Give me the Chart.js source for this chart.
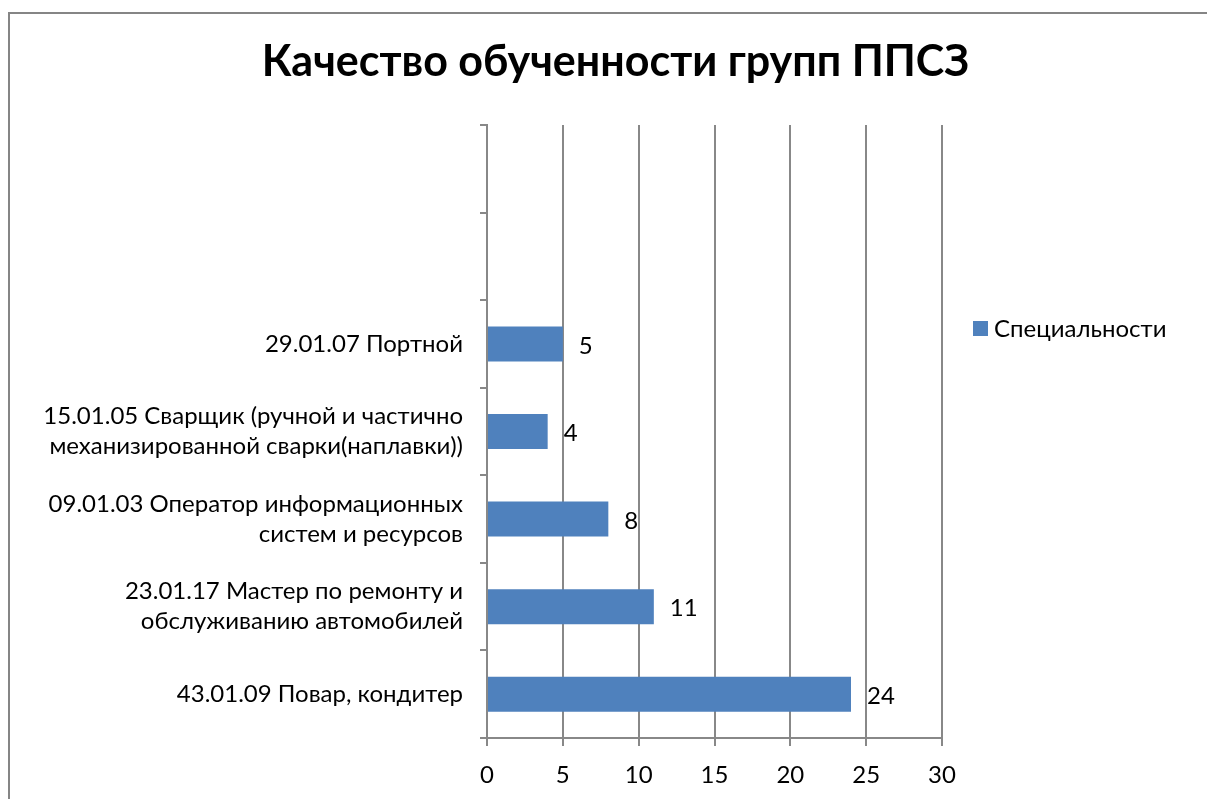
<!DOCTYPE html>
<html>
<head>
<meta charset="utf-8">
<script src="https://cdn.jsdelivr.net/npm/chart.js@4/dist/chart.umd.min.js"></script>
<style>
  html, body { margin: 0; padding: 0; background: #ffffff; }
  #wrap { position: relative; width: 1207px; height: 799px; overflow: hidden; }
  canvas { display: block; }
</style>
</head>
<body>
<div id="wrap"><canvas id="c" width="1207" height="799"></canvas></div>
<script>
// ---- data ----
const chartTitle = "Качество обученности групп ППСЗ";
const seriesName = "Специальности";
const categories = [
  "",
  "",
  "29.01.07 Портной",
  ["15.01.05 Сварщик (ручной и частично", "механизированной сварки(наплавки))"],
  ["09.01.03 Оператор информационных", "систем и ресурсов"],
  ["23.01.17 Мастер по ремонту и", "обслуживанию автомобилей"],
  "43.01.09 Повар, кондитер"
];
const values = [null, null, 5, 4, 8, 11, 24];
const xTicks = [0, 5, 10, 15, 20, 25, 30];

const FONT = "Lato, 'Open Sans', sans-serif";
const GRID = "#888888";
const BAR = "#4f81bd";

const framePlugin = {
  id: 'frame',
  beforeDraw(chart) {
    const ctx = chart.ctx;
    ctx.save();
    ctx.fillStyle = '#ffffff';
    ctx.fillRect(0, 0, chart.width, chart.height);
    ctx.strokeStyle = '#858585';
    ctx.lineWidth = 2;
    ctx.beginPath();
    ctx.moveTo(9, chart.height + 5);
    ctx.lineTo(9, 13);
    ctx.lineTo(chart.width + 5, 13);
    ctx.stroke();
    ctx.restore();
  }
};

const titleLegendPlugin = {
  id: 'titleLegend',
  afterDraw(chart) {
    const ctx = chart.ctx;
    ctx.save();
    // title
    ctx.fillStyle = '#000000';
    ctx.font = "bold 43px " + FONT;
    ctx.textAlign = 'center';
    ctx.textBaseline = 'alphabetic';
    ctx.fillText(chartTitle, 615.5, 76);
    // legend
    const ds = chart.data.datasets[0];
    ctx.fillStyle = ds.backgroundColor;
    ctx.fillRect(973, 321, 15, 15);
    ctx.fillStyle = '#000000';
    ctx.font = "24px " + FONT;
    ctx.textAlign = 'left';
    ctx.textBaseline = 'middle';
    ctx.fillText(ds.label, 994, 329);
    ctx.restore();
  }
};

const valueLabelPlugin = {
  id: 'valueLabels',
  afterDatasetsDraw(chart) {
    const ctx = chart.ctx;
    const meta = chart.getDatasetMeta(0);
    const data = chart.data.datasets[0].data;
    ctx.save();
    ctx.fillStyle = '#000000';
    ctx.font = "24px " + FONT;
    ctx.textAlign = 'left';
    ctx.textBaseline = 'middle';
    meta.data.forEach((el, i) => {
      if (data[i] === null || data[i] === undefined) return;
      ctx.fillText(String(data[i]), el.x + 16, el.y + 2);
    });
    ctx.restore();
  }
};

new Chart(document.getElementById('c'), {
  type: 'bar',
  data: {
    labels: categories,
    datasets: [{
      label: seriesName,
      data: values,
      backgroundColor: BAR,
      borderWidth: 0,
      categoryPercentage: 1.0,
      barPercentage: 0.4
    }]
  },
  options: {
    indexAxis: 'y',
    responsive: false,
    animation: false,
    devicePixelRatio: 1,
    layout: { padding: { left: 0, right: 265, top: 125, bottom: 0 } },
    plugins: {
      legend: { display: false },
      title: { display: false },
      tooltip: { enabled: false }
    },
    scales: {
      x: {
        type: 'linear',
        position: 'bottom',
        min: 0,
        max: 30,
        afterBuildTicks(scale) { scale.ticks = xTicks.map(v => ({ value: v })); },
        afterFit(scale) { scale.height = 61; },
        grid: {
          display: true,
          drawOnChartArea: true,
          drawTicks: true,
          tickLength: 8,
          color: GRID,
          lineWidth: 2
        },
        border: { display: true, color: GRID, width: 2 },
        ticks: {
          padding: 15,
          color: '#000000',
          font: { family: FONT, size: 24 },
          maxRotation: 0
        }
      },
      y: {
        type: 'category',
        position: 'left',
        offset: true,
        afterFit(scale) { scale.width = 487; },
        grid: {
          display: true,
          offset: true,
          drawOnChartArea: false,
          drawTicks: true,
          tickLength: 7,
          color: GRID,
          lineWidth: 2
        },
        border: { display: true, color: GRID, width: 2 },
        ticks: {
          padding: 17,
          color: '#000000',
          autoSkip: false,
          font: { family: FONT, size: 24, lineHeight: 1.25 }
        }
      }
    }
  },
  plugins: [framePlugin, titleLegendPlugin, valueLabelPlugin]
});
</script>
</body>
</html>
